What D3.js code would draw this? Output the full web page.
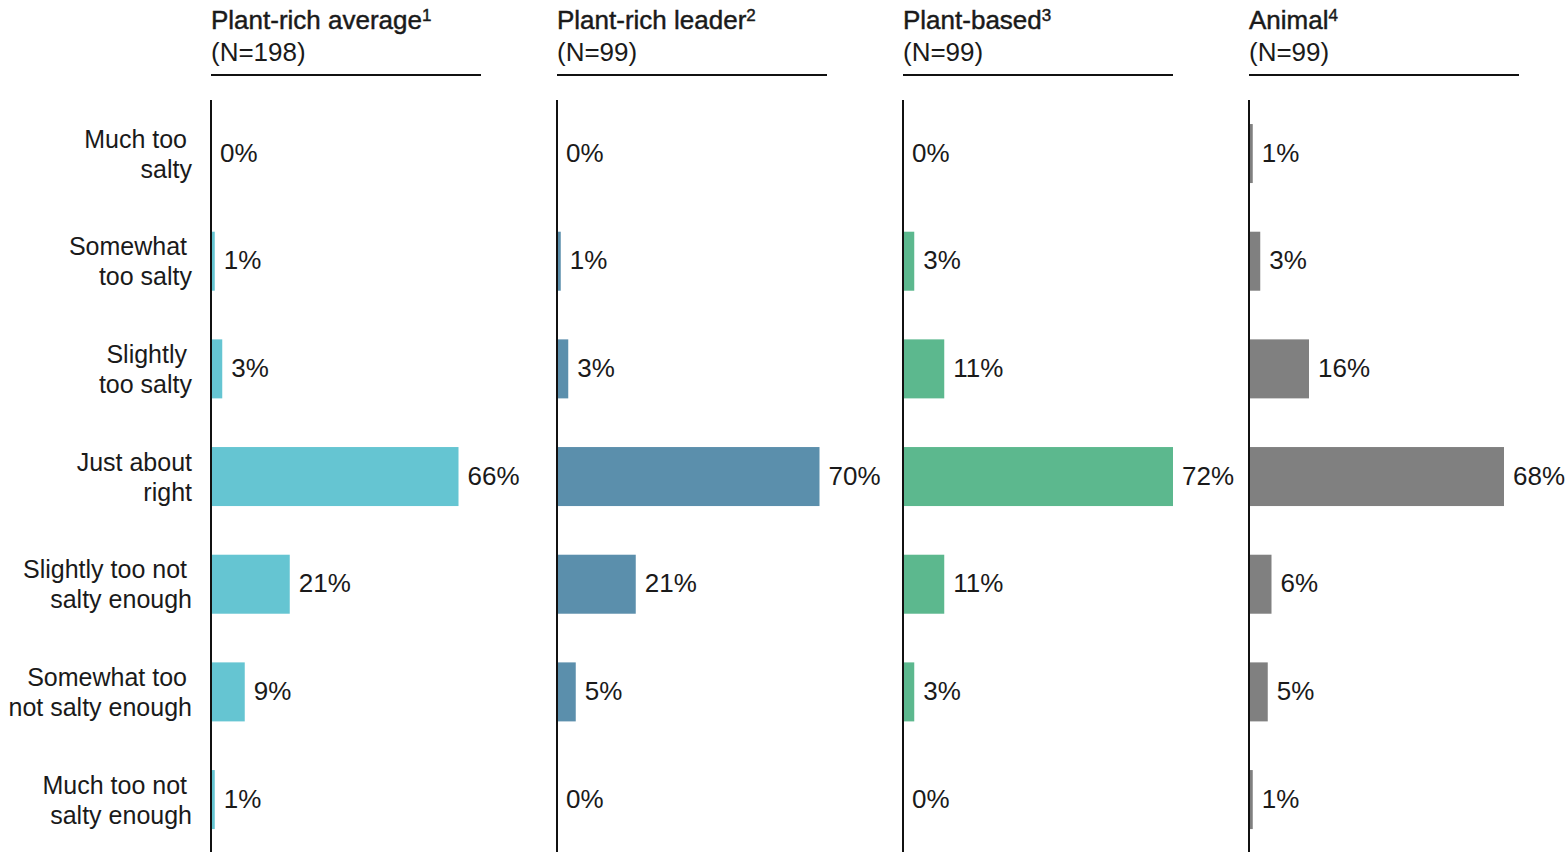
<!DOCTYPE html>
<html>
<head>
<meta charset="utf-8">
<script src="https://cdn.jsdelivr.net/npm/d3@7"></script>
<style>
  html, body { margin: 0; padding: 0; background: #ffffff; }
  svg { display: block; }
  text { font-family: "Liberation Sans", Arial, sans-serif; fill: #1a1a1a; }
</style>
</head>
<body>
<svg id="chart" width="1567" height="852"></svg>
<script>
// Response categories (two-line labels)
const categories = [
  ["Much too ", "salty"],
  ["Somewhat ", "too salty"],
  ["Slightly ", "too salty"],
  ["Just about", "right"],
  ["Slightly too not ", "salty enough"],
  ["Somewhat too ", "not salty enough"],
  ["Much too not ", "salty enough"]
];

// Panel headers
const panelTitles = ["Plant-rich average", "Plant-rich leader", "Plant-based", "Animal"];
const panelNotes = ["1", "2", "3", "4"];
const panelSizes = ["(N=198)", "(N=99)", "(N=99)", "(N=99)"];
const panelColors = ["#65c5d2", "#5b8fac", "#5cb88e", "#808080"];

// Share of respondents (%) per panel, in category order
const plantRichAverage = [0, 1, 3, 66, 21, 9, 1];
const plantRichLeader  = [0, 1, 3, 70, 21, 5, 0];
const plantBased       = [0, 3, 11, 72, 11, 3, 0];
const animal           = [1, 3, 16, 68, 6, 5, 1];

const series = [plantRichAverage, plantRichLeader, plantBased, animal];

const svg = d3.select("#chart");
const catKeys = categories.map((c, i) => i);

// Layout
const firstAxisX = 211;
const panelStep = 346;
const fontSize = 26;
const catFontSize = 25;

const x = d3.scaleLinear().domain([0, 100]).range([0, 375]);
const y = d3.scaleBand()
  .domain(catKeys)
  .range([99.7, 853.4])
  .paddingInner(0.452)
  .paddingOuter(0.226);

// Category labels, right-aligned against the first panel
const catG = svg.append("g");
categories.forEach((lines, i) => {
  const cy = y(i) + y.bandwidth() / 2;
  const t = catG.append("text")
    .attr("text-anchor", "end")
    .attr("font-size", catFontSize);
  lines.forEach((ln, j) => {
    const trailing = ln.endsWith(" ");
    t.append("tspan")
      .attr("x", trailing ? 187 : 192)
      .attr("y", cy - 6 + j * 30)
      .text(ln.trim());
  });
});

series.forEach((vals, p) => {
  const x0 = firstAxisX + p * panelStep;
  const g = svg.append("g").attr("transform", `translate(${x0},0)`);

  // Header
  const title = g.append("text")
    .attr("x", 0).attr("y", 29)
    .attr("font-size", fontSize)
    .attr("stroke", "#1a1a1a").attr("stroke-width", 0.45);
  title.append("tspan").text(panelTitles[p]);
  title.append("tspan")
    .attr("font-size", 17)
    .attr("dy", -8)
    .text(panelNotes[p]);

  g.append("text")
    .attr("x", 0).attr("y", 61)
    .attr("font-size", fontSize)
    .text(panelSizes[p]);

  g.append("line")
    .attr("x1", 0).attr("x2", 270)
    .attr("y1", 75).attr("y2", 75)
    .attr("stroke", "#111").attr("stroke-width", 2);

  // Bars
  g.selectAll("rect.bar")
    .data(vals)
    .join("rect")
    .attr("class", "bar")
    .attr("x", 0)
    .attr("y", (d, i) => y(i))
    .attr("width", d => x(d))
    .attr("height", y.bandwidth())
    .attr("fill", panelColors[p]);

  // Value labels
  g.selectAll("text.val")
    .data(vals)
    .join("text")
    .attr("class", "val")
    .attr("x", d => x(d) + 9)
    .attr("y", (d, i) => y(i) + y.bandwidth() / 2 + 8)
    .attr("font-size", fontSize)
    .text(d => d + "%");

  // Baseline axis
  g.append("line")
    .attr("x1", 0).attr("x2", 0)
    .attr("y1", 100).attr("y2", 852)
    .attr("stroke", "#111").attr("stroke-width", 2);
});
</script>
</body>
</html>
